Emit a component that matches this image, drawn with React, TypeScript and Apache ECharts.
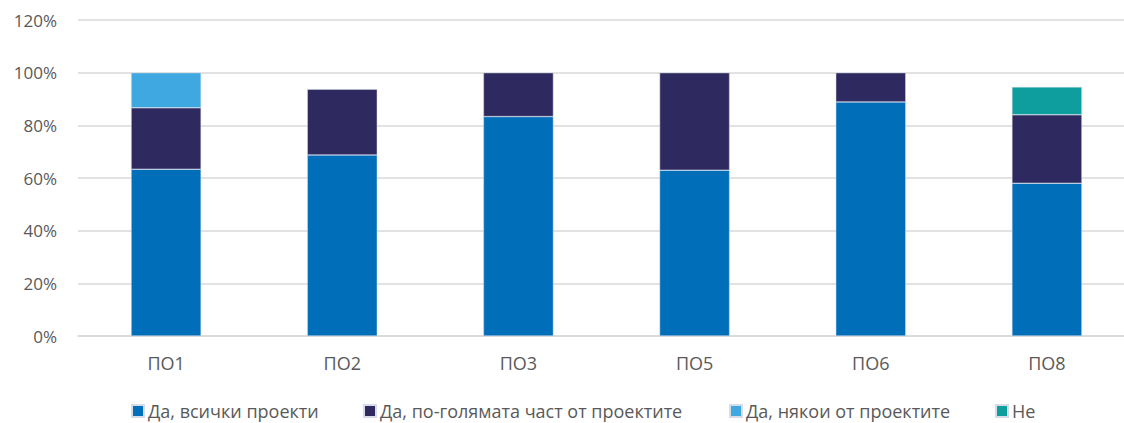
import React, { useEffect, useRef } from "react";
import * as echarts from "echarts";

const categories = ["ПО1", "ПО2", "ПО3", "ПО5", "ПО6", "ПО8"];
const seriesNames = [
  "Да, всички проекти",
  "Да, по-голямата част от проектите",
  "Да, някои от проектите",
  "Не",
];
const allProjects = [63.33, 68.75, 83.33, 62.96, 88.89, 58.0];
const mostProjects = [23.33, 25.0, 16.67, 37.04, 11.11, 26.0];
const someProjects = [13.34, 0, 0, 0, 0, 0];
const noProjects = [0, 0, 0, 0, 0, 10.6];
const yTicks = [0, 20, 40, 60, 80, 100, 120];
const colors = ["#006EB9", "#2E2A5F", "#40A8E0", "#0F9E9E"];
const legendLefts = [131, 363, 729, 995];

export default function App() {
  const ref = useRef<HTMLDivElement>(null);
  useEffect(() => {
    const chart = echarts.init(ref.current!, null, { renderer: "svg" });
    const values = [allProjects, mostProjects, someProjects, noProjects];
    chart.setOption({
      animation: false,
      textStyle: { fontFamily: "Open Sans" },
      grid: { left: 78, top: 20, width: 1057, height: 316, containLabel: false },
      legend: seriesNames.map((name, i) => ({
        top: 402,
        left: legendLefts[i],
        padding: 0,
        itemWidth: 12,
        itemHeight: 12,
        icon: "rect",
        textStyle: {
          color: "#595959",
          fontSize: 18,
          lineHeight: 18,
          fontFamily: "Open Sans",
          padding: [0, 0, 0, -1],
        },
        data: [name],
      })),
      xAxis: {
        type: "category",
        data: categories,
        axisLine: { lineStyle: { color: "#D9D9D9", width: 1.5 } },
        axisTick: { show: false },
        axisLabel: { color: "#595959", fontSize: 18, margin: 18 },
      },
      yAxis: {
        type: "value",
        min: yTicks[0],
        max: yTicks[yTicks.length - 1],
        interval: 20,
        axisLine: { show: false },
        axisTick: { show: false },
        splitLine: { lineStyle: { color: "#D9D9D9", width: 1.5 } },
        axisLabel: {
          color: "#595959",
          fontSize: 17,
          margin: 21,
          formatter: (v: number) => `${v}%`,
        },
      },
      series: seriesNames.map((name, i) => ({
        name,
        type: "bar",
        stack: "total",
        barWidth: 70,
        data: values[i].map((v) => (v === 0 ? null : v)),
        itemStyle: { color: colors[i], borderColor: "#D6DCE8", borderWidth: 0.5 },
      })),
    });
    return () => chart.dispose();
  }, []);
  return (
    <div
      style={{ position: "absolute", left: 0, top: 0, width: 1124, height: 423, overflow: "hidden" }}
    >
      <div ref={ref} style={{ width: 1135, height: 423 }} />
    </div>
  );
}
